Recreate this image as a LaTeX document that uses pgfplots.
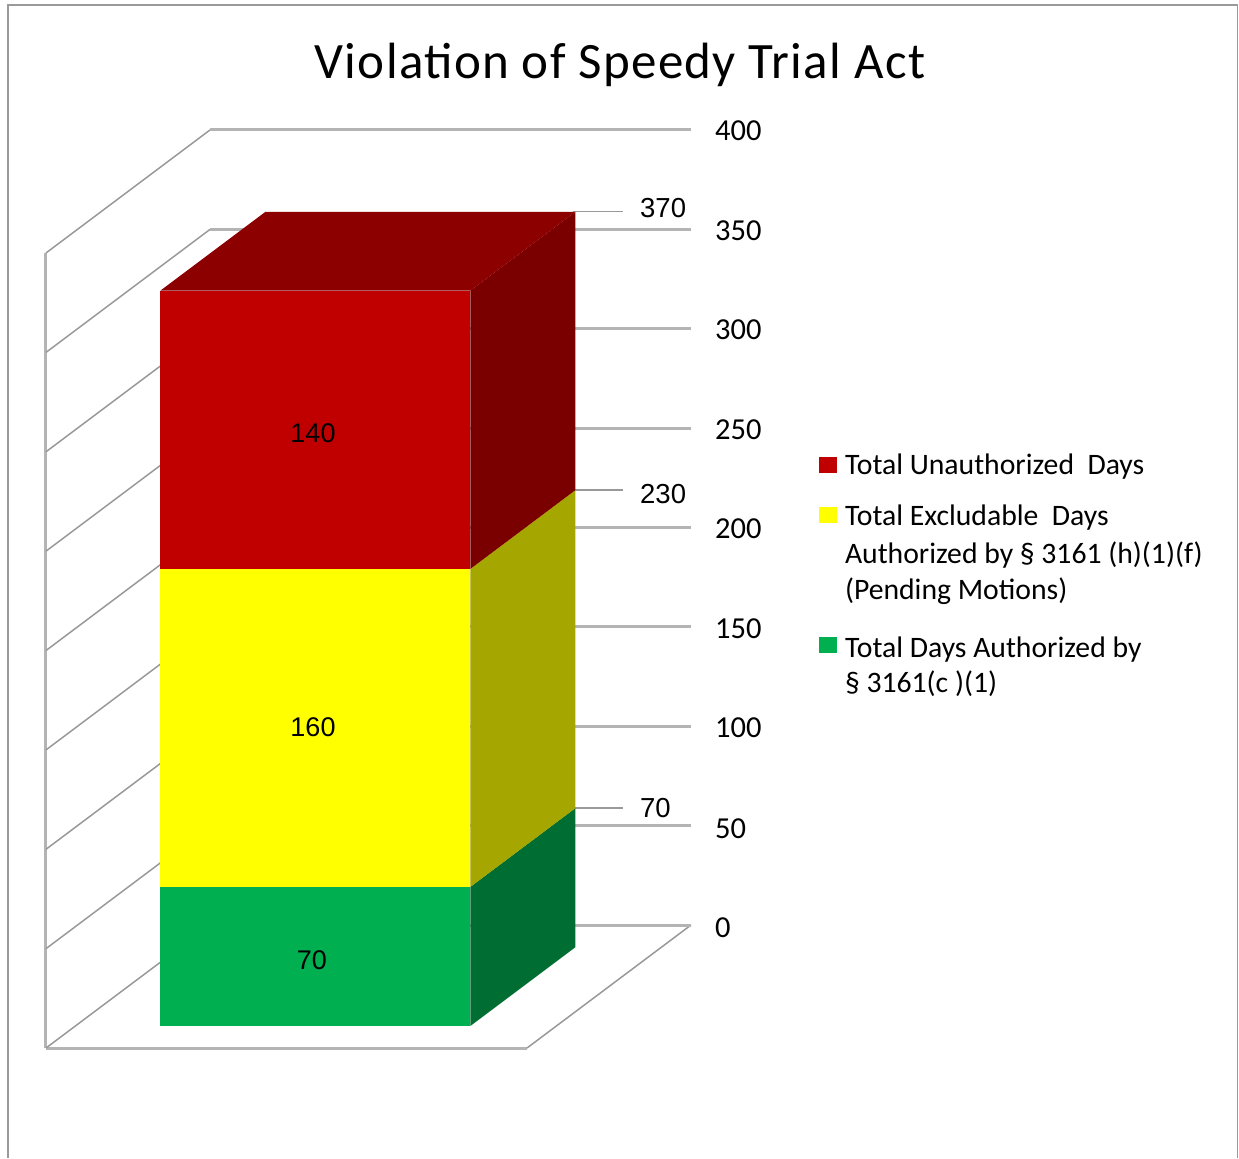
\documentclass[border=0pt]{standalone}
\usepackage{pgfplots}
\pgfplotsset{compat=1.18}
\usepackage{fontspec}
\setmainfont{Carlito}
\newfontfamily\arialf{Liberation Sans}
\definecolor{cred}{HTML}{C00000}
\definecolor{credtop}{HTML}{8C0000}
\definecolor{credside}{HTML}{7A0000}
\definecolor{cyel}{HTML}{FFFF00}
\definecolor{cyelside}{HTML}{A6A600}
\definecolor{cgrn}{HTML}{00B050}
\definecolor{cgrnside}{HTML}{006E32}
\definecolor{cgrid}{HTML}{B4B4B4}
\definecolor{cframe}{HTML}{9A9A9A}
\newcommand{\ls}[2]{\rule[-9pt]{0pt}{#1pt}#2}
\pgfplotsset{
  swy/.style={legend image code/.code={\fill[##1] (0pt,-21pt) rectangle (18pt,-5pt);}},
  swg/.style={legend image code/.code={\fill[##1] (0pt,-23pt) rectangle (18pt,-7pt);}},
}
\begin{document}
\begin{tikzpicture}
\begin{axis}[
  hide axis, clip=false,
  x={(1pt,0pt)}, y={(164pt,123pt)}, z={(0pt,1.9875pt)},
  xmin=0, xmax=481, ymin=0, ymax=1, zmin=0, zmax=400,
  no marks,
  legend image code/.code={\fill[#1] (0pt,-8pt) rectangle (18pt,8pt);},
  legend cell align=left,
  legend style={at={(axis cs:773,0,298.9)},anchor=north west,draw=none,fill=none,
    inner sep=0pt,outer sep=0pt,row sep=0pt,column sep=8pt,
    font=\fontsize{29.7}{36}\selectfont,
    nodes={inner sep=0pt,outer sep=0pt}},
]
% frame and page extent
\path (axis cs:-46,0,-55.35) (axis cs:1193,0,527.3);
\draw[cframe,line width=1.5pt] (axis cs:-38,0,-55.35) -- (axis cs:-38,0,524.8) -- (axis cs:1191.5,0,524.8) -- (axis cs:1191.5,0,-55.35);
% walls: gridlines
\addplot3[forget plot,cgrid,line width=3pt] coordinates {(0,0,0)(0,0,400)};
\addplot3[forget plot,cgrid,line width=3pt] coordinates {(0,0,0)(481,0,0)};
\addplot3[forget plot,gray!80,line width=1.5pt] coordinates {(481,0,0)(481,1,0)};
\foreach \v in {0,50,100,150,200,250,300,350,400}{
  \edef\temp{\noexpand\addplot3[forget plot,gray!80,line width=1.5pt] coordinates {(0,0,\v)(0,1,\v)};
    \noexpand\addplot3[forget plot,cgrid,line width=3pt] coordinates {(0,1,\v)(481,1,\v)};}
  \temp
}
% leader lines
\addplot3[forget plot,gray!80,line width=1.2pt] coordinates {(393,.82,70)(443,.82,70)};
\addplot3[forget plot,gray!80,line width=1.2pt] coordinates {(393,.82,230)(443,.82,230)};
\addplot3[forget plot,gray!80,line width=1.2pt] coordinates {(393,.82,370)(443,.82,370)};
% side and top faces
\addplot3[forget plot,fill=cgrnside,draw=none] coordinates {(395,.179,0)(395,.82,0)(395,.82,70)(395,.179,70)};
\addplot3[forget plot,fill=cyelside,draw=none] coordinates {(395,.179,70)(395,.82,70)(395,.82,230)(395,.179,230)};
\addplot3[forget plot,fill=credside,draw=none] coordinates {(395,.179,230)(395,.82,230)(395,.82,370)(395,.179,370)};
\addplot3[forget plot,fill=credtop,draw=none] coordinates {(85,.179,370)(395,.179,370)(395,.82,370)(85,.82,370)};
% front faces
\addplot3[fill=cred,draw=none] coordinates {(85,.179,230)(395,.179,230)(395,.179,370)(85,.179,370)};
\addlegendentry{\ls{27}{Total Unauthorized~ Days}}
\addplot3[fill=cyel,draw=none,swy] coordinates {(85,.179,70)(395,.179,70)(395,.179,230)(85,.179,230)};
\addlegendentry{\ls{58.5}{Total Excludable~ Days}}
\addlegendimage{empty legend}
\addlegendentry{\ls{45}{Authorized by § 3161 (h)(1)(f)}}
\addlegendimage{empty legend}
\addlegendentry{\ls{43.5}{(Pending Motions)}}
\addplot3[fill=cgrn,draw=none,swg] coordinates {(85,.179,0)(395,.179,0)(395,.179,70)(85,.179,70)};
\addlegendentry{\ls{66}{Total Days Authorized by}}
\addlegendimage{empty legend}
\addlegendentry{\ls{42.5}{§ 3161(c )(1)}}
% title
\node[font=\fontsize{51}{60}\selectfont\addfontfeature{LetterSpace=2.6},inner sep=0pt] at (axis cs:574,0,494.5) {Violation of Speedy Trial Act};
% bar labels
\node[font=\arialf\fontsize{27}{30}\selectfont,inner sep=0pt] at (axis cs:267,0,309.4) {140};
\node[font=\arialf\fontsize{27}{30}\selectfont,inner sep=0pt] at (axis cs:267,0,161.5) {160};
\node[font=\arialf\fontsize{27}{30}\selectfont,inner sep=0pt] at (axis cs:266,0,44) {70};
% cumulative labels
\node[font=\arialf\fontsize{27.5}{30}\selectfont,inner sep=0pt,anchor=west] at (axis cs:594,0,422.4) {370};
\node[font=\arialf\fontsize{27.5}{30}\selectfont,inner sep=0pt,anchor=west] at (axis cs:594,0,278.6) {230};
\node[font=\arialf\fontsize{27.5}{30}\selectfont,inner sep=0pt,anchor=west] at (axis cs:594,0,120.6) {70};
% tick labels
\foreach \v/\z in {400/461.5,350/411.3,300/361.3,250/311.2,200/261.1,150/211.1,100/161.0,50/110.4,0/60.4}{
  \edef\temp{\noexpand\node[font=\noexpand\fontsize{30.5}{32}\noexpand\selectfont,inner sep=0pt,anchor=west] at (axis cs:669,0,\z) {\v};}
  \temp
}
\end{axis}
\end{tikzpicture}
\end{document}
